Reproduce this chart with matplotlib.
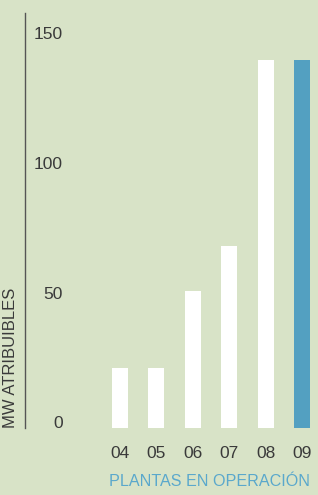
import matplotlib
matplotlib.use("Agg")
import matplotlib.pyplot as plt
import matplotlib.transforms as mtransforms

# ---------------------------------------------------------------------------
# Data
# ---------------------------------------------------------------------------
YEARS = ["04", "05", "06", "07", "08", "09"]
MW = [23, 23, 53, 70, 142, 142]
Y_TICKS = [0, 50, 100, 150]

BG = "#d8e3c7"
BAR_WHITE = "#ffffff"
BAR_BLUE = "#53a0c1"
TEXT_DARK = "#3a3a3a"
TEXT_BLUE = "#5aa8cc"

plt.rcParams["font.family"] = ["Liberation Sans", "DejaVu Sans"]

W, H = 318, 495
fig = plt.figure(figsize=(W / 100, H / 100), dpi=100, facecolor=BG)

# axes: left edge on the vertical rule, bottom at the bar baseline
left_px, bottom_px, top_px = 25, 428, 13
ax = fig.add_axes([left_px / W, (H - bottom_px) / H, 1 - left_px / W,
                   (bottom_px - top_px) / H])
ax.set_facecolor(BG)

x = list(range(len(YEARS)))
colors = [BAR_WHITE] * (len(YEARS) - 1) + [BAR_BLUE]
ax.bar(x, MW, width=0.44, color=colors, linewidth=0)

# bar centres sit at 120 px + 36.4 px per step
step = 36.4
ax.set_xlim((left_px - 120) / step, (W - 120) / step)
ax.set_ylim(0, 160)

for s in ["top", "right", "bottom"]:
    ax.spines[s].set_visible(False)
ax.spines["left"].set_color("#555555")
ax.spines["left"].set_linewidth(1.0)

ax.set_xticks(x)
ax.set_xticklabels(YEARS, fontsize=12.5, color=TEXT_DARK)
ax.tick_params(axis="x", length=0, pad=13)

# y labels sit inside the axes, right-aligned, nudged up a little
ax.set_yticks([])
lbl_trans = mtransforms.blended_transform_factory(fig.transFigure, ax.transData)
lbl_trans = lbl_trans + mtransforms.ScaledTranslation(0, 4 / 100, fig.dpi_scale_trans)
for v in Y_TICKS:
    ax.text(63 / W, v, str(v), transform=lbl_trans, ha="right", va="center",
            fontsize=12.5, color=TEXT_DARK)

fig.text(11 / W, (H - 428) / H, "MW ATRIBUIBLES", rotation=90,
         ha="center", va="bottom", fontsize=12, color=TEXT_DARK)
fig.text(310 / W, (H - 481) / H, "PLANTAS EN OPERACIÓN",
         ha="right", va="center", fontsize=11.6, color=TEXT_BLUE)

fig.savefig("out.png", dpi=100, facecolor=BG)
